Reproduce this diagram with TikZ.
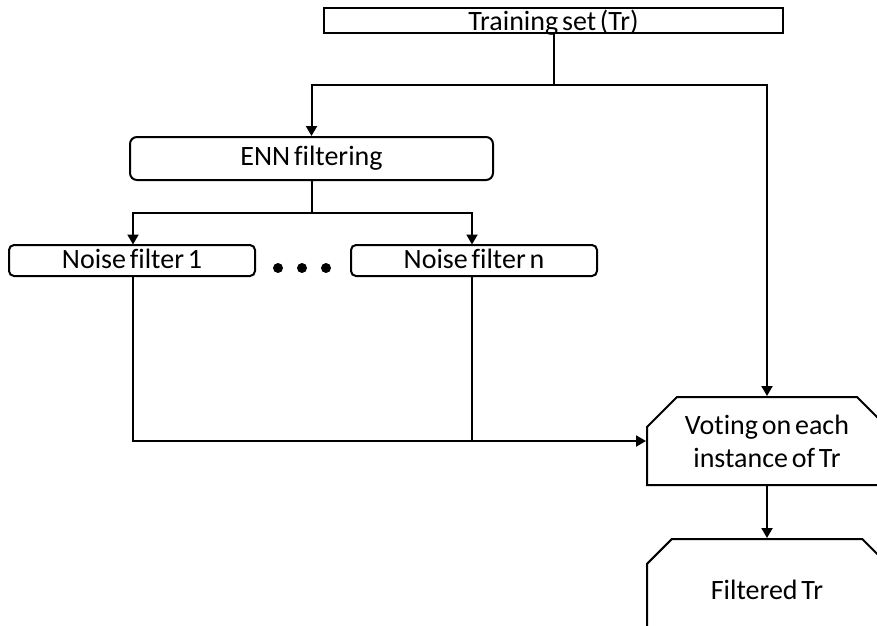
\documentclass[tikz,border=0pt]{standalone}
\usepackage{fontspec}
\setmainfont{Carlito}[WordSpace=0.6, Ligatures=NoCommon]
\usetikzlibrary{arrows.meta,shapes.misc}

\tikzset{
  every node/.style={font=\fontsize{28}{33}\selectfont},
  line/.style={line width=2pt, line join=miter},
  arr/.style={line, -{Triangle[length=10pt,width=11pt]}},
  plainbox/.style={line, draw, rectangle, inner sep=0pt},
  roundbox/.style={plainbox, rounded corners=7pt},
  cutbox/.style={line, draw, chamfered rectangle,
    chamfered rectangle corners={north west,north east},
    chamfered rectangle xsep=15pt, chamfered rectangle ysep=15pt,
    inner sep=0pt, align=center},
  dotmark/.style={circle, fill, inner sep=0pt, minimum size=10pt},
}

\begin{document}
\begin{tikzpicture}[x=1pt, y=-1pt]
  \clip (0,0) rectangle (877,625);
  \fill[white] (0,0) rectangle (877,625);

  % boxes
  \node[plainbox, minimum width=459pt, minimum height=25pt,
        text height=22pt, text depth=3pt] (tr) at (553.5,20.5) {Training set (Tr)};
  \node[roundbox, minimum width=363pt, minimum height=43pt] (enn) at (311.5,158.5) {ENN filtering};
  \node[roundbox, rounded corners=5pt, minimum width=246pt, minimum height=31pt,
        text height=20pt, text depth=5pt] (nf1) at (132,260.5) {Noise filter 1};
  \node[roundbox, rounded corners=5pt, minimum width=246pt, minimum height=31pt,
        text height=20pt, text depth=5pt] (nfn) at (474,260.5) {Noise filter n};
  \node[cutbox, minimum width=240pt, minimum height=88pt] (vote) at (767,441)
        {Voting on each\\instance of Tr};
  \node[cutbox, minimum width=240pt, minimum height=102pt] (out) at (767,590) {Filtered Tr};

  % ellipsis between the noise filters
  \node[dotmark] (d1) at (278,268) {};
  \node[dotmark] (d2) at (302,268) {};
  \node[dotmark] (d3) at (326,268) {};

  % branch points
  \coordinate (s1) at (tr.south |- 0,85);
  \coordinate (s2) at (enn.south |- 0,213);
  \coordinate (j1) at (133,441);
  \coordinate (j2) at (472,441);

  % connectors
  \draw[line] (tr.south) -- (s1);
  \draw[arr] (s1) -| (enn.north);
  \draw[arr] (s1) -| (vote.north);
  \draw[line] (enn.south) -- (s2);
  \draw[arr] (s2) -| (133,244.5);
  \draw[arr] (s2) -| (472,244.5);
  \draw[line] (133,276) -- (j1) -- (j2);
  \draw[line] (472,276) -- (j2);
  \draw[arr] (j2) -- (vote.west);
  \draw[arr] (vote.south) -- (out.north);
\end{tikzpicture}
\end{document}
